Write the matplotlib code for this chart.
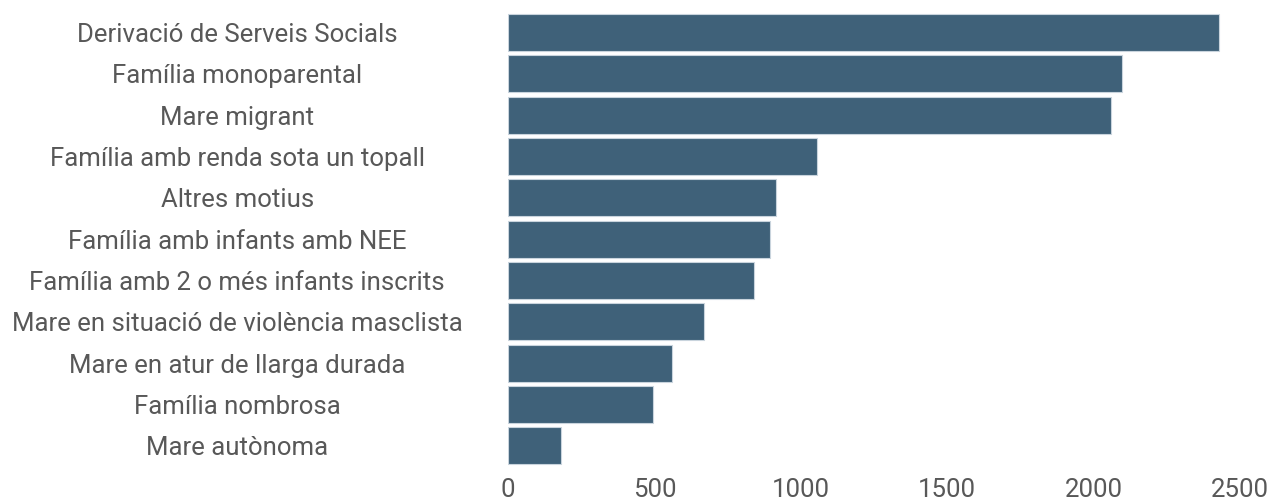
import numpy as np
import matplotlib.pyplot as plt

# data
categories = [
    "Derivació de Serveis Socials",
    "Família monoparental",
    "Mare migrant",
    "Família amb renda sota un topall",
    "Altres motius",
    "Família amb infants amb NEE",
    "Família amb 2 o més infants inscrits",
    "Mare en situació de violència masclista",
    "Mare en atur de llarga durada",
    "Família nombrosa",
    "Mare autònoma",
]
values = [2428, 2096, 2060, 1055, 917, 894, 840, 670, 560, 495, 181]
xticks = [0, 500, 1000, 1500, 2000, 2500]

plt.rcParams['font.family'] = ['Roboto', 'DejaVu Sans']

fig = plt.figure(figsize=(12.72, 5.04), dpi=100)
ax = fig.add_axes([508 / 1272, 1 - 466.5 / 504, (1240 - 508) / 1272, (466.5 - 11.8) / 504])

ypos = np.arange(len(categories))
ax.barh(ypos, values, height=0.9, color='#3f6179', edgecolor='#c9d4dd', linewidth=0.8)

ax.set_xlim(0, 2500)
ax.set_ylim(len(categories) - 0.5, -0.5)
ax.set_xticks(xticks)
ax.set_xticklabels([str(t) for t in xticks])
ax.set_yticks(ypos)
ax.set_yticklabels(categories, ha='center')

ax.tick_params(axis='y', length=0, pad=195, labelsize=18.5, labelcolor='#585858')
# bottom labels sit right at the lower edge, as in the source
ax.tick_params(axis='x', length=0, pad=8, labelsize=18.5, labelcolor='#585858')
for s in ax.spines.values():
    s.set_visible(False)

fig.savefig('out.png', dpi=100)
